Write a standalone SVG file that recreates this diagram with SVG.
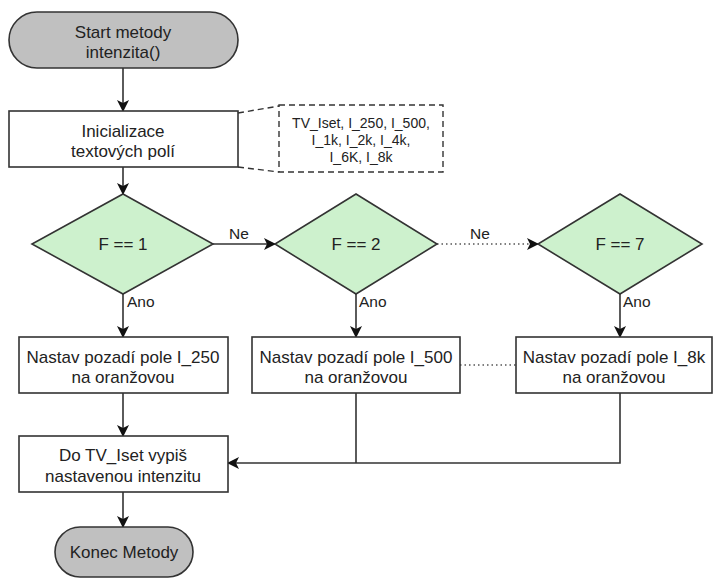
<svg xmlns="http://www.w3.org/2000/svg" width="714" height="578" viewBox="0 0 714 578">
<style>
text{font-family:"Liberation Sans",Arial,sans-serif;fill:#222;text-anchor:middle}
.t{font-size:17px}
.s{font-size:14px}
.lbl{font-size:15.5px;text-anchor:start}
.term{fill:#c0c0c0;stroke:#333;stroke-width:1.6}
.box{fill:#fff;stroke:#333;stroke-width:1.6}
.dia{fill:#cdf1cd;stroke:#333;stroke-width:1.6}
.ann{fill:none;stroke:#333;stroke-width:1.4;stroke-dasharray:6,4}
.c{fill:none;stroke:#333;stroke-width:1.6}
.dot{fill:none;stroke:#555;stroke-width:1.4;stroke-dasharray:1.5,3}
</style>
<defs>
<marker id="ah" viewBox="0 0 12 12" refX="11" refY="6" markerWidth="12" markerHeight="12" markerUnits="userSpaceOnUse" orient="auto">
<path d="M0,0 L12,6 L0,12 L3,6 z" fill="#111"/>
</marker>
</defs>
<rect width="714" height="578" fill="#fff"/>
<g id="connectors">
<path class="c" d="M123,68 V111" marker-end="url(#ah)"/>
<path class="c" d="M123,167 V194" marker-end="url(#ah)"/>
<path class="c" d="M213,244 H275" marker-end="url(#ah)"/>
<path class="dot" d="M437,244 H530"/>
<path class="c" d="M530,244 H538" marker-end="url(#ah)"/>
<path class="c" d="M123,294 V337" marker-end="url(#ah)"/>
<path class="c" d="M356,294 V337" marker-end="url(#ah)"/>
<path class="c" d="M620,294 V337" marker-end="url(#ah)"/>
<path class="dot" d="M460,365 H516"/>
<path class="c" d="M123,393 V436" marker-end="url(#ah)"/>
<path class="c" d="M620,393 V463 H228" marker-end="url(#ah)"/>
<path class="c" d="M356,393 V463"/>
<path class="c" d="M123,492 V527" marker-end="url(#ah)"/>
<text class="lbl" x="229" y="239">Ne</text>
<text class="lbl" x="470" y="239">Ne</text>
<text class="lbl" x="127" y="307">Ano</text>
<text class="lbl" x="359" y="307">Ano</text>
<text class="lbl" x="623" y="307">Ano</text>
</g>
<g id="start">
<rect class="term" x="9" y="12" width="229" height="56" rx="28"/>
<text class="t" x="123" y="38">Start metody</text>
<text class="t" x="123" y="58">intenzita()</text>
</g>
<g id="init">
<rect class="box" x="9" y="111" width="229" height="56"/>
<text class="t" x="123" y="137">Inicializace</text>
<text class="t" x="123" y="157">textových polí</text>
</g>
<g id="annotation">
<path class="ann" d="M238,113 L279,106 M238,167 L279,172"/>
<rect class="ann" x="279" y="105" width="164" height="67"/>
<text class="s" x="361" y="128">TV_Iset, I_250, I_500,</text>
<text class="s" x="361" y="145">I_1k, I_2k, I_4k,</text>
<text class="s" x="361" y="162">I_6K, I_8k</text>
</g>
<g id="dec1">
<polygon class="dia" points="123,194 213,244 123,294 32,244"/>
<text class="t" x="123" y="250">F == 1</text>
</g>
<g id="dec2">
<polygon class="dia" points="356,194 437,244 356,294 275,244"/>
<text class="t" x="356" y="250">F == 2</text>
</g>
<g id="dec7">
<polygon class="dia" points="620,194 702,244 620,294 538,244"/>
<text class="t" x="620" y="250">F == 7</text>
</g>
<g id="set250">
<rect class="box" x="19" y="337" width="209" height="56"/>
<text class="t" x="123" y="363">Nastav pozadí pole I_250</text>
<text class="t" x="123" y="383">na oranžovou</text>
</g>
<g id="set500">
<rect class="box" x="252" y="337" width="208" height="56"/>
<text class="t" x="356" y="363">Nastav pozadí pole I_500</text>
<text class="t" x="356" y="383">na oranžovou</text>
</g>
<g id="set8k">
<rect class="box" x="516" y="337" width="196" height="56"/>
<text class="t" x="614" y="363">Nastav pozadí pole I_8k</text>
<text class="t" x="614" y="383">na oranžovou</text>
</g>
<g id="output">
<rect class="box" x="19" y="436" width="209" height="56"/>
<text class="t" x="123" y="461">Do TV_Iset vypiš</text>
<text class="t" x="123" y="482">nastavenou intenzitu</text>
</g>
<g id="end">
<rect class="term" x="55" y="527" width="138" height="50" rx="25"/>
<text class="t" x="124" y="558">Konec Metody</text>
</g>
</svg>
